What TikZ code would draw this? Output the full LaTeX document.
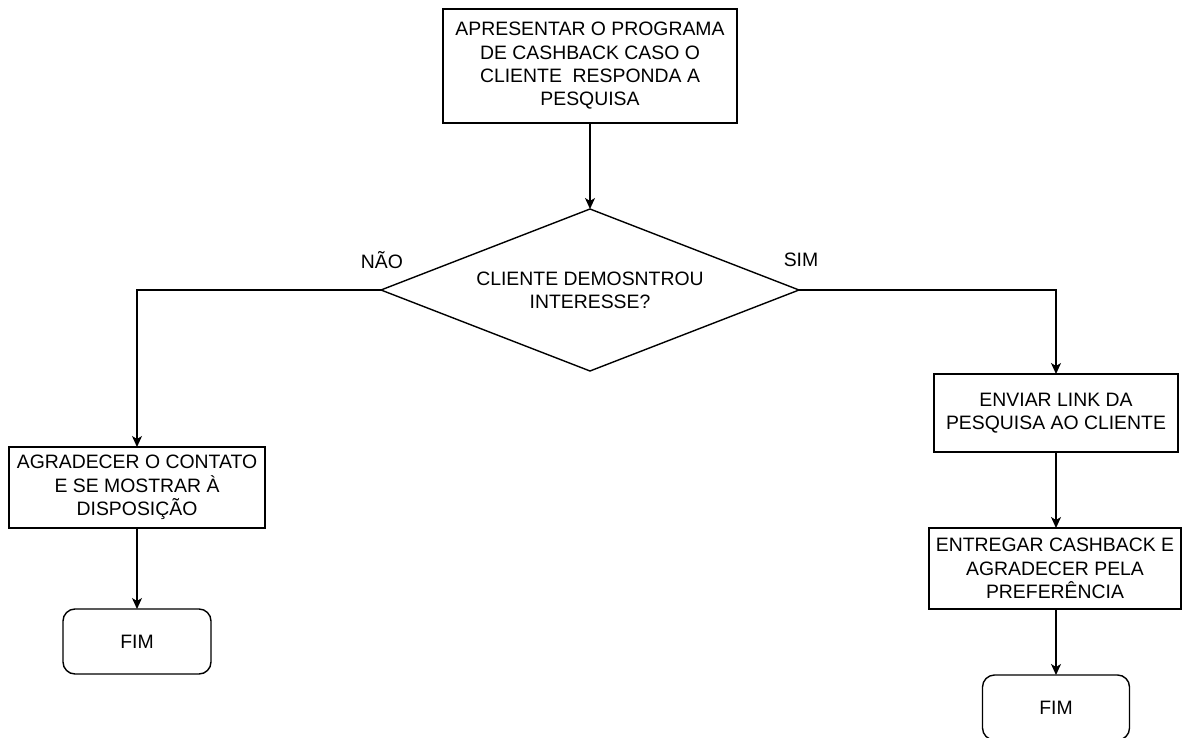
\documentclass[tikz,border=0pt]{standalone}
\usepackage{fontspec}
\setmainfont{Liberation Sans}
\usetikzlibrary{shapes.geometric,arrows.meta}
\begin{document}
\begin{tikzpicture}[x=1pt,y=-1pt,
  every node/.style={font=\fontsize{19.4}{23.3}\selectfont, text=black},
  box/.style={draw, line width=1.4pt, fill=white, rectangle, align=center,
              inner sep=0pt, outer sep=0pt},
  endbox/.style={box, rounded corners=12pt},
  decision/.style={draw, line width=1.4pt, fill=white, diamond, aspect=2.58, align=center,
              inner sep=0pt, outer sep=0pt, minimum width=418pt, minimum height=162pt},
  flow/.style={line width=1.4pt, -{Stealth[length=11pt,width=10pt,inset=3pt]}}
]
\useasboundingbox (0,0) rectangle (1182,738);

% process steps
\node[box, minimum width=294pt, minimum height=114pt] (apres) at (590,66)
  {APRESENTAR O PROGRAMA\\DE CASHBACK CASO O\\CLIENTE\ \ RESPONDA A\\PESQUISA};
\node[decision] (dec) at (590,290) {CLIENTE DEMOSNTROU\\INTERESSE?};

\node[box, minimum width=256pt, minimum height=81pt] (agrad) at (137,487.5)
  {AGRADECER O CONTATO\\E SE MOSTRAR À\\DISPOSIÇÃO};
\node[endbox, minimum width=148pt, minimum height=65pt] (fimA) at (137,641.5) {FIM};

\node[box, minimum width=244pt, minimum height=78pt] (enviar) at (1056,413)
  {ENVIAR LINK DA\\PESQUISA AO CLIENTE};
\node[box, minimum width=252pt, minimum height=81pt] (entregar) at (1055,568.5)
  {ENTREGAR CASHBACK E\\AGRADECER PELA\\PREFERÊNCIA};
\node[endbox, minimum width=147pt, minimum height=65pt] (fimB) at (1056,707.5) {FIM};

% branch labels
\node (nao) at (382,260) {NÃO};
\node (sim) at (801,260) {SIM};

% connectors
\draw[flow] (apres.south) -- (dec.north);
\draw[flow] (dec.west) -| (agrad.north);
\draw[flow] (dec.east) -| (enviar.north);
\draw[flow] (agrad.south) -- (fimA.north);
\draw[flow] (enviar.south) -- (enviar.south |- entregar.north);
\draw[flow] (enviar.south |- entregar.south) -- (fimB.north);
\end{tikzpicture}
\end{document}
